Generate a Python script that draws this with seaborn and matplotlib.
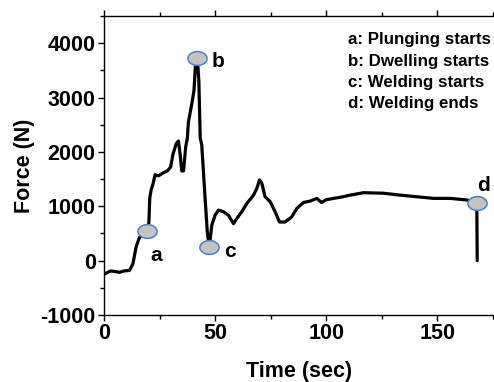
import numpy as np
import pandas as pd
import matplotlib
matplotlib.use("Agg")
import matplotlib.pyplot as plt
from matplotlib.path import Path
from matplotlib.ticker import MultipleLocator
import seaborn as sns

# Force history of the friction stir welding cycle
time_s = [0, 1.5, 3, 5, 7, 9, 11.5, 13, 14.5, 16, 17.5, 19.5, 20.2, 20.6, 21.2, 22,
          23, 24.5, 26.5, 28.5, 30, 31, 32.5, 33.5, 34.3, 35, 35.8, 36.8, 37.5, 38,
          39.5, 40.5, 41.2, 42, 42.7, 43.3, 44, 45.5, 46.5, 47.4, 48.5, 50, 51.5,
          53.7, 56, 58.3, 59.8, 62, 64.3, 67.3, 68.8, 70, 71, 72.5, 74.8, 77, 79,
          81.5, 84.5, 86.8, 89.8, 92.8, 95.8, 97.9, 100, 103.3, 107, 110.8, 116.8,
          125.8, 133.3, 140.8, 148.3, 155.9, 163.4, 167.8, 168.0]
force_n = [-250, -220, -190, -200, -215, -190, -180, -60, 260, 430, 480, 553, 700,
           1150, 1300, 1400, 1580, 1560, 1610, 1650, 1720, 1950, 2150, 2200, 1950,
           1650, 1650, 2100, 2250, 2550, 2880, 3130, 3620, 3733, 3300, 2260, 2130,
           1150, 530, 247, 650, 835, 930, 900, 835, 680, 775, 900, 1050, 1205, 1330,
           1485, 1430, 1175, 1085, 900, 710, 710, 805, 960, 1070, 1095, 1145, 1070,
           1120, 1145, 1170, 1205, 1250, 1240, 1205, 1175, 1145, 1145, 1115, 1063, 0]

# Process events marked on the curve
event_keys = ["a", "b", "c", "d"]
event_t = [19.5, 42.0, 47.4, 167.8]
event_f = [553, 3733, 247, 1063]
event_notes = ["a: Plunging starts", "b: Dwelling starts",
               "c: Welding starts", "d: Welding ends"]

x_ticks = [0, 50, 100, 150]
y_ticks = [-1000, 0, 1000, 2000, 3000, 4000]

sns.set_style("ticks")
plt.rcParams["font.family"] = ["Liberation Sans", "DejaVu Sans"]
plt.rcParams["font.weight"] = "bold"
plt.rcParams["axes.unicode_minus"] = False
for key in ["text.color", "axes.labelcolor", "xtick.color", "ytick.color",
            "axes.edgecolor"]:
    plt.rcParams[key] = "black"

fig = plt.figure(figsize=(4.94, 3.82), dpi=100)
ax = fig.add_axes([104 / 494, 1 - 315 / 382, 391 / 494, (315 - 16) / 382])

df = pd.DataFrame({"Time (sec)": time_s, "Force (N)": force_n})
sns.lineplot(data=df, x="Time (sec)", y="Force (N)", ax=ax, color="black",
             linewidth=2.3, sort=False, estimator=None)

# Elliptical event markers
theta = np.linspace(0, 2 * np.pi, 60)
ell = Path(np.column_stack([np.cos(theta), 0.72 * np.sin(theta)]), closed=True)
ev = pd.DataFrame({"t": event_t, "f": event_f})
sns.scatterplot(data=ev, x="t", y="f", ax=ax, marker=ell, s=13.8 ** 2,
                color="#c3c3c3", edgecolor="#4f7fbf", linewidth=1.1, zorder=5,
                legend=False)

offsets = {"a": (9, -25), "b": (21, -4), "c": (21, -4), "d": (7, 17)}
for k, t, f in zip(event_keys, event_t, event_f):
    ax.annotate(k, (t, f), xytext=offsets[k], textcoords="offset pixels",
                ha="center", va="center", fontsize=15, fontweight="bold",
                color="black")

note_y = [0.923, 0.849, 0.779, 0.706]
for note, yy in zip(event_notes, note_y):
    ax.text(0.6245, yy, note, transform=ax.transAxes, ha="left", va="center",
            fontsize=12.2, fontweight="bold", color="black")

ax.set_xlim(0, 176)
ax.set_ylim(-1000, 4500)
ax.set_xticks(x_ticks)
ax.set_yticks(y_ticks)
ax.xaxis.set_minor_locator(MultipleLocator(25))
ax.yaxis.set_minor_locator(MultipleLocator(500))
ax.tick_params(axis="both", which="major", direction="out", length=4, width=1,
               labelsize=15.5, pad=2, top=True, colors="black")
ax.tick_params(axis="both", which="minor", direction="out", length=3, width=1,
               top=True, colors="black")
for lab in ax.get_xticklabels() + ax.get_yticklabels():
    lab.set_fontweight("bold")

for side in ["left", "bottom", "top"]:
    ax.spines[side].set_visible(True)
    ax.spines[side].set_linewidth(1.0)
    ax.spines[side].set_color("black")
ax.spines["right"].set_visible(False)

ax.set_xlabel("Time (sec)", fontsize=15.5, fontweight="bold", labelpad=12,
              color="black")
ax.set_ylabel("Force (N)", fontsize=15.5, fontweight="bold", labelpad=4,
              color="black")

fig.savefig("out.png", dpi=100)
